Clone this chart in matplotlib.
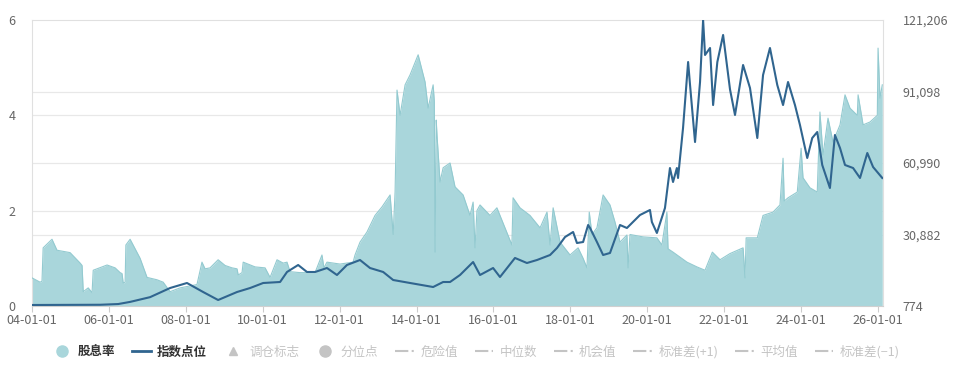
import matplotlib
matplotlib.use("Agg")
import matplotlib.pyplot as plt
import matplotlib.dates as mdates
from matplotlib.lines import Line2D
import pandas as pd

plt.rcParams['font.family'] = ['Noto Sans CJK SC', 'DejaVu Sans']

# dividend yield (%), dates as decimal years
yield_t = [2004.00, 2004.21, 2004.26, 2004.29, 2004.52, 2004.65, 2004.99, 2005.25, 2005.30, 2005.33,
           2005.46, 2005.56, 2005.59, 2005.95, 2006.16, 2006.29, 2006.34, 2006.37, 2006.42, 2006.44,
           2006.55, 2006.81, 2006.99, 2007.25, 2007.41, 2007.59, 2007.85, 2008.29, 2008.42, 2008.50,
           2008.63, 2008.84, 2009.02, 2009.20, 2009.33, 2009.36, 2009.46, 2009.49, 2009.80, 2010.06,
           2010.19, 2010.37, 2010.53, 2010.63, 2010.71, 2010.97, 2011.36, 2011.54, 2011.59, 2011.67,
           2012.01, 2012.35, 2012.40, 2012.53, 2012.71, 2012.92, 2013.10, 2013.31, 2013.39, 2013.44,
           2013.49, 2013.57, 2013.70, 2013.83, 2014.04, 2014.14, 2014.22, 2014.30, 2014.43, 2014.46,
           2014.48, 2014.51, 2014.53, 2014.61, 2014.69, 2014.87, 2015.00, 2015.21, 2015.39, 2015.47,
           2015.52, 2015.57, 2015.65, 2015.91, 2016.09, 2016.30, 2016.48, 2016.51, 2016.69, 2016.95,
           2017.21, 2017.39, 2017.47, 2017.55, 2017.73, 2017.99, 2018.20, 2018.33, 2018.43, 2018.49,
           2018.56, 2018.69, 2018.85, 2019.03, 2019.16, 2019.29, 2019.47, 2019.50, 2019.55, 2019.89,
           2020.25, 2020.38, 2020.51, 2020.54, 2020.67, 2021.03, 2021.29, 2021.50, 2021.69, 2021.89,
           2022.15, 2022.49, 2022.54, 2022.57, 2022.86, 2023.01, 2023.27, 2023.45, 2023.53, 2023.56,
           2023.66, 2023.90, 2024.00, 2024.05, 2024.23, 2024.42, 2024.49, 2024.57, 2024.70, 2024.83,
           2025.01, 2025.14, 2025.27, 2025.46, 2025.48, 2025.61, 2025.79, 2025.98, 2026.00, 2026.05,
           2026.11]
yield_v = [0.59, 0.50, 0.52, 1.22, 1.40, 1.17, 1.12, 0.90, 0.85, 0.30,
           0.38, 0.28, 0.75, 0.86, 0.80, 0.70, 0.68, 0.48, 0.50, 1.28,
           1.40, 1.00, 0.60, 0.55, 0.50, 0.30, 0.38, 0.45, 0.92, 0.78,
           0.80, 0.97, 0.85, 0.80, 0.78, 0.65, 0.70, 0.92, 0.82, 0.80,
           0.60, 0.97, 0.90, 0.92, 0.72, 0.70, 0.70, 1.07, 0.80, 0.92,
           0.88, 0.92, 1.07, 1.34, 1.55, 1.90, 2.08, 2.33, 1.50, 2.40,
           4.53, 4.00, 4.64, 4.85, 5.27, 4.95, 4.70, 4.15, 4.64, 4.30,
           1.13, 3.90, 3.59, 2.60, 2.90, 3.00, 2.50, 2.33, 1.90, 2.18,
           1.22, 2.00, 2.12, 1.90, 2.06, 1.64, 1.28, 2.27, 2.06, 1.90,
           1.64, 1.97, 1.28, 2.06, 1.34, 1.07, 1.22, 1.00, 0.80, 1.97,
           1.50, 1.64, 2.33, 2.12, 1.76, 1.34, 1.49, 0.80, 1.50, 1.45,
           1.43, 1.28, 1.97, 1.20, 1.13, 0.92, 0.82, 0.75, 1.13, 0.97,
           1.10, 1.22, 0.59, 1.43, 1.43, 1.90, 1.97, 2.12, 3.10, 2.20,
           2.27, 2.39, 3.31, 2.69, 2.48, 2.39, 4.07, 3.17, 3.94, 3.44,
           3.80, 4.43, 4.15, 4.00, 4.43, 3.80, 3.86, 4.00, 5.41, 4.36,
           4.64]

# index level
index_t = [2004.00, 2005.77, 2006.24, 2006.55, 2007.07, 2007.59, 2008.03, 2008.45, 2008.84, 2009.33,
           2009.67, 2010.01, 2010.45, 2010.63, 2010.92, 2011.15, 2011.36, 2011.67, 2011.93, 2012.19,
           2012.53, 2012.79, 2013.13, 2013.39, 2013.83, 2014.43, 2014.69, 2014.87, 2015.13, 2015.47,
           2015.65, 2015.99, 2016.17, 2016.56, 2016.87, 2017.13, 2017.47, 2017.65, 2017.86, 2018.07,
           2018.17, 2018.33, 2018.46, 2018.51, 2018.69, 2018.85, 2019.03, 2019.29, 2019.47, 2019.81,
           2020.07, 2020.12, 2020.25, 2020.46, 2020.59, 2020.67, 2020.77, 2020.80, 2020.93, 2021.06,
           2021.11, 2021.24, 2021.37, 2021.45, 2021.50, 2021.63, 2021.71, 2021.82, 2021.97, 2022.15,
           2022.28, 2022.49, 2022.67, 2022.86, 2023.01, 2023.19, 2023.38, 2023.53, 2023.66, 2023.84,
           2023.97, 2024.16, 2024.29, 2024.42, 2024.55, 2024.75, 2024.88, 2025.01, 2025.14, 2025.35,
           2025.53, 2025.72, 2025.87, 2026.11]
index_v = [1200, 1300, 1600, 2500, 4500, 8350, 10460, 6670, 3300, 6670,
           8350, 10460, 10880, 15100, 18040, 15100, 15100, 16770, 13830, 18040,
           20140, 16770, 15100, 11720, 10460, 8770, 10880, 10880, 13830, 19300,
           13830, 16770, 12980, 21000, 18880, 20140, 22250, 25200, 29830, 31940,
           27300, 27720, 34880, 33620, 27720, 22250, 23100, 34880, 33620, 39090,
           41200, 36140, 31520, 42040, 58880, 52990, 58880, 54680, 75730, 103520,
           93840, 69830, 95100, 121200, 106470, 109420, 85400, 103520, 114890, 92000,
           81200, 102260, 92570, 71520, 98040, 109420, 93840, 85400, 95100, 85400,
           76990, 63100, 71520, 74040, 60150, 50460, 72790, 67300, 60150, 58880,
           54680, 65200, 59300, 54680]

left_ticks = [0, 2, 4, 6]
right_ticks = [774, 30882, 60990, 91098, 121206]
legend_labels = ["股息率", "指数点位", "调仓标志", "分位点", "危险值", "中位数",
                 "机会值", "标准差(+1)", "平均值", "标准差(−1)"]


def to_dt(vals):
    out = []
    for y in vals:
        yr = int(y)
        out.append(pd.Timestamp(year=yr, month=1, day=1) + pd.Timedelta(days=(y - yr) * 365.25))
    return out


fill_c = "#a9d6db"
edge_c = "#93cad0"
line_c = "#30658f"
grid_c = "#e8e8e8"
tick_c = "#666666"
off_c = "#c4c4c4"

fig = plt.figure(figsize=(9.6, 3.79), dpi=100)
ax = fig.add_axes([32 / 960, 1 - 306 / 379, (883 - 32) / 960, (306 - 20) / 379])

yd = to_dt(yield_t)
ax.fill_between(yd, yield_v, 0, color=fill_c, lw=0, zorder=2)
ax.plot(yd, yield_v, color=edge_c, lw=0.8, zorder=3)

# grid lines for both scales, under the area
for g in [2, 4]:
    ax.axhline(g, color=grid_c, lw=0.9, zorder=0)
for r in right_ticks[1:-1]:
    ax.axhline((r - right_ticks[0]) / (right_ticks[-1] - right_ticks[0]) * 6, color=grid_c, lw=0.9, zorder=0)

ax.set_ylim(0, 6)
ax.set_yticks(left_ticks)
ax.set_xlim(pd.Timestamp("2004-01-01"), pd.Timestamp("2026-02-17"))
ax.set_xticks([pd.Timestamp(f"{y}-01-01") for y in range(2004, 2027, 2)])
ax.xaxis.set_major_formatter(mdates.DateFormatter("%y-%m-%d"))
ax.tick_params(axis="x", colors="#cccccc", labelcolor=tick_c, labelsize=9, length=4, pad=2)
ax.tick_params(axis="y", length=0, labelcolor=tick_c, labelsize=9, pad=12)
for s in ax.spines.values():
    s.set_color("#e0e0e0")
    s.set_linewidth(0.8)
ax.spines["bottom"].set_color("#d0d0d0")

ax2 = ax.twinx()
ax2.plot(to_dt(index_t), index_v, color=line_c, lw=1.5, zorder=4)
ax2.set_ylim(right_ticks[0], right_ticks[-1])
ax2.set_yticks(right_ticks)
ax2.set_yticklabels([f"{v:,}" for v in right_ticks])
ax2.tick_params(axis="y", length=0, labelcolor=tick_c, labelsize=9, pad=14)
for s in ax2.spines.values():
    s.set_visible(False)

handles = [
    Line2D([], [], marker="o", ls="none", color=fill_c, markersize=8),
    Line2D([], [], color=line_c, lw=2),
    Line2D([], [], marker="^", ls="none", color=off_c, markersize=6),
    Line2D([], [], marker="o", ls="none", color=off_c, markersize=8),
]
for _ in range(6):
    handles.append(Line2D([], [], color=off_c, lw=1.5, ls="-."))
leg = fig.legend(handles, legend_labels, loc="center", bbox_to_anchor=(0.496, 1 - 352 / 379),
                 ncol=10, frameon=False, fontsize=9, handlelength=1.5, handletextpad=0.5,
                 columnspacing=1.35)
for i, t in enumerate(leg.get_texts()):
    if i < 2:
        t.set_color("#333333")
        t.set_fontweight("bold")
    else:
        t.set_color(off_c)

fig.savefig("out.png", dpi=100)
